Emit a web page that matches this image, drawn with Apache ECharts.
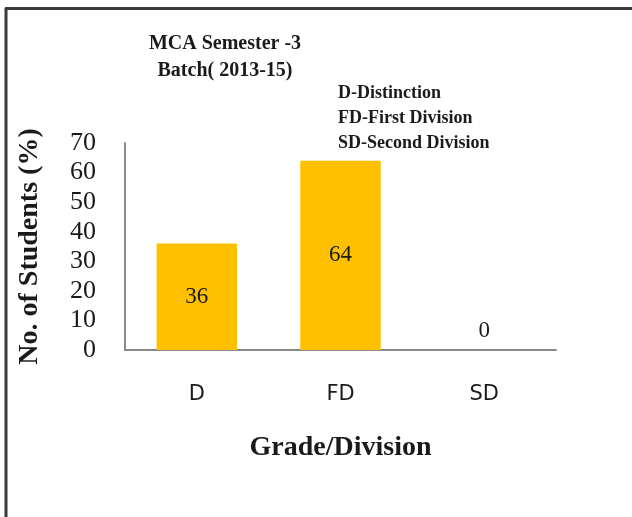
<!DOCTYPE html>
<html>
<head>
<meta charset="utf-8">
<script src="https://cdn.jsdelivr.net/npm/echarts@6/dist/echarts.min.js"></script>
<style>
html,body{margin:0;padding:0;background:#fff;}
#chart{width:632px;height:517px;}
</style>
</head>
<body>
<div id="chart"></div>
<script>
var grades = ['D', 'FD', 'SD'];
var percents = [36, 64, 0];
var yTicks = {min: 0, max: 70, step: 10};
var notes = ['D-Distinction', 'FD-First Division', 'SD-Second Division'];

var serif = '"Liberation Serif", serif';
var myChart = echarts.init(document.getElementById('chart'));

var barData = percents.map(function (v) {
    // excel puts the zero label above the axis
    if (v === 0) {
        return {value: v, label: {position: 'top', distance: 8}};
    }
    return v;
});

var option = {
    backgroundColor: '#fff',
    animation: false,
    title: [
        {
            text: 'MCA Semester -3\nBatch( 2013-15)',
            left: 220,
            top: 25,
            textAlign: 'center',
            textStyle: {fontFamily: serif, fontWeight: 'bold', fontSize: 20, lineHeight: 27, color: '#1a1a1a'}
        },
        {
            text: notes.join('\n'),
            left: 333,
            top: 76,
            textStyle: {fontFamily: serif, fontWeight: 'bold', fontSize: 18, lineHeight: 25, color: '#1a1a1a'}
        }
    ],
    graphic: [
        {type: 'line', shape: {x1: 5, y1: 8.5, x2: 632, y2: 8.5}, style: {stroke: '#3a3a3a', lineWidth: 3}},
        {type: 'line', shape: {x1: 6, y1: 8, x2: 6, y2: 517}, style: {stroke: '#3a3a3a', lineWidth: 3}}
    ],
    grid: {
        left: 125,
        right: 76,
        top: 143,
        bottom: 167
    },
    xAxis: {
        type: 'category',
        data: grades,
        name: 'Grade/Division',
        nameLocation: 'middle',
        nameGap: 84,
        nameTextStyle: {fontFamily: serif, fontWeight: 'bold', fontSize: 28, color: '#1a1a1a'},
        axisLine: {lineStyle: {color: '#888', width: 2}},
        axisTick: {show: false},
        axisLabel: {
            margin: 34,
            fontFamily: '"DejaVu Sans", sans-serif',
            fontSize: 21,
            color: '#1a1a1a'
        }
    },
    yAxis: {
        type: 'value',
        min: yTicks.min,
        max: yTicks.max,
        interval: yTicks.step,
        name: 'No. of Students (%)',
        nameLocation: 'middle',
        nameRotate: 90,
        nameGap: 81,
        nameTextStyle: {fontFamily: serif, fontWeight: 'bold', fontSize: 28, color: '#1a1a1a'},
        axisLine: {show: true, lineStyle: {color: '#888', width: 2}},
        axisTick: {show: false},
        splitLine: {show: false},
        axisLabel: {
            margin: 29,
            fontFamily: serif,
            fontSize: 26,
            color: '#1a1a1a'
        }
    },
    series: [
        {
            name: 'Students',
            type: 'bar',
            barWidth: '56%',
            data: barData,
            itemStyle: {color: '#FFC000'},
            label: {
                show: true,
                position: 'inside',
                fontFamily: serif,
                fontSize: 23,
                color: '#1a1a1a'
            }
        }
    ]
};

myChart.setOption(option);
window.onresize = function () {
    myChart.resize();
};
</script>
</body>
</html>
